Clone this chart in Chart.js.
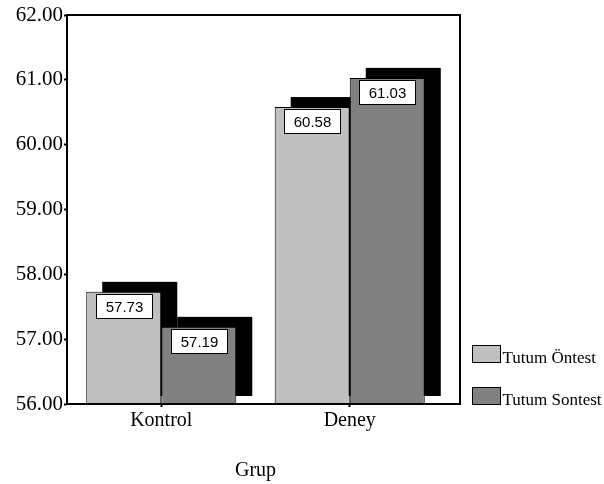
<!DOCTYPE html>
<html>
<head>
<meta charset="utf-8">
<script src="https://cdn.jsdelivr.net/npm/chart.js@4.4.1/dist/chart.umd.min.js"></script>
<style>
  html, body { margin: 0; padding: 0; background: #fff; }
  #wrap { width: 604px; height: 484px; }
</style>
</head>
<body>
<div id="wrap"><canvas id="chart"></canvas></div>
<script>
const groups = ["Kontrol", "Deney"];
const pretest = [57.73, 60.58];
const posttest = [57.19, 61.03];
const seriesNames = ["Tutum Öntest", "Tutum Sontest"];
const yTicks = [56, 57, 58, 59, 60, 61, 62];

const serif = "'Liberation Serif', 'Times New Roman', serif";
const sans = "'Liberation Sans', Arial, sans-serif";

// black offset block behind each bar (3D look), plus frame and value boxes
const depth = { dx: 16, top: 10, bottom: 8 };

const barDecor = {
  id: "barDecor",
  beforeDatasetsDraw(chart) {
    const ctx = chart.ctx;
    const base = chart.scales.y.getPixelForValue(yTicks[0]);
    ctx.save();
    ctx.fillStyle = "#000";
    chart.data.datasets.forEach((ds, i) => {
      chart.getDatasetMeta(i).data.forEach((bar) => {
        const left = bar.x - bar.width / 2 + depth.dx;
        const top = bar.y - depth.top;
        ctx.fillRect(left, top, bar.width, base - depth.bottom - top);
      });
    });
    ctx.restore();
  },
  afterDatasetsDraw(chart) {
    const ctx = chart.ctx;
    const area = chart.chartArea;
    ctx.save();
    // frame: top + right side, bottom axis extended under the depth blocks
    ctx.strokeStyle = "#000";
    ctx.lineWidth = 2;
    ctx.beginPath();
    ctx.moveTo(area.left, area.top);
    ctx.lineTo(area.right + depth.dx, area.top);
    ctx.lineTo(area.right + depth.dx, area.bottom);
    ctx.lineTo(area.left, area.bottom);
    ctx.stroke();

    // value boxes
    ctx.font = "15px " + sans;
    ctx.textAlign = "center";
    ctx.textBaseline = "middle";
    chart.data.datasets.forEach((ds, i) => {
      chart.getDatasetMeta(i).data.forEach((bar, j) => {
        const w = 56, h = 24;
        const x = Math.round(bar.x - w / 2) + 0.5;
        const y = Math.round(bar.y + 2) + 0.5;
        ctx.fillStyle = "#fff";
        ctx.fillRect(x, y, w, h);
        ctx.strokeStyle = "#000";
        ctx.lineWidth = 1;
        ctx.strokeRect(x, y, w, h);
        ctx.fillStyle = "#000";
        ctx.fillText(ds.data[j].toFixed(2), x + w / 2, y + h / 2 + 1);
      });
    });

    // legend
    ctx.font = "17px " + serif;
    ctx.textAlign = "left";
    ctx.textBaseline = "alphabetic";
    chart.data.datasets.forEach((ds, i) => {
      const bx = area.right + depth.dx + 12.5;
      const by = 345.5 + i * 42;
      ctx.fillStyle = ds.backgroundColor;
      ctx.fillRect(bx, by, 28, 17);
      ctx.strokeStyle = "#000";
      ctx.lineWidth = 1;
      ctx.strokeRect(bx, by, 28, 17);
      ctx.fillStyle = "#000";
      ctx.fillText(ds.label, bx + 30, by + 17);
    });
    ctx.restore();
  },
};

new Chart(document.getElementById("chart"), {
  type: "bar",
  data: {
    labels: groups,
    datasets: [
      {
        label: seriesNames[0],
        data: pretest,
        backgroundColor: "#c0c0c0",
        borderColor: "#000",
        borderWidth: 1,
      },
      {
        label: seriesNames[1],
        data: posttest,
        backgroundColor: "#808080",
        borderColor: "#000",
        borderWidth: 1,
      },
    ],
  },
  options: {
    responsive: true,
    maintainAspectRatio: false,
    animation: false,
    layout: { padding: { left: 0, right: 160, top: 15, bottom: 0 } },
    datasets: { bar: { categoryPercentage: 0.796, barPercentage: 1 } },
    plugins: {
      legend: { display: false },
      tooltip: { enabled: false },
    },
    scales: {
      x: {
        afterFit: (scale) => { scale.height = 80; },
        grid: {
          offset: false,
          drawOnChartArea: false,
          tickLength: 3,
          tickWidth: 2,
          tickColor: "#000",
        },
        border: { color: "#000", width: 2 },
        ticks: {
          color: "#000",
          padding: 2,
          font: { family: serif, size: 20 },
        },
        title: {
          display: true,
          text: "Grup",
          color: "#000",
          font: { family: serif, size: 20 },
          padding: { top: 0, bottom: 1 },
        },
      },
      y: {
        min: yTicks[0],
        max: yTicks[yTicks.length - 1],
        afterFit: (scale) => { scale.width = 67; },
        afterBuildTicks: (scale) => {
          scale.ticks = yTicks.map((v) => ({ value: v }));
        },
        grid: {
          drawOnChartArea: false,
          tickLength: 3,
          tickWidth: 2,
          tickColor: "#000",
        },
        border: { color: "#000", width: 2 },
        ticks: {
          color: "#000",
          padding: 1,
          font: { family: serif, size: 21 },
          callback: (v) => Number(v).toFixed(2),
        },
      },
    },
  },
  plugins: [barDecor],
});
</script>
</body>
</html>
